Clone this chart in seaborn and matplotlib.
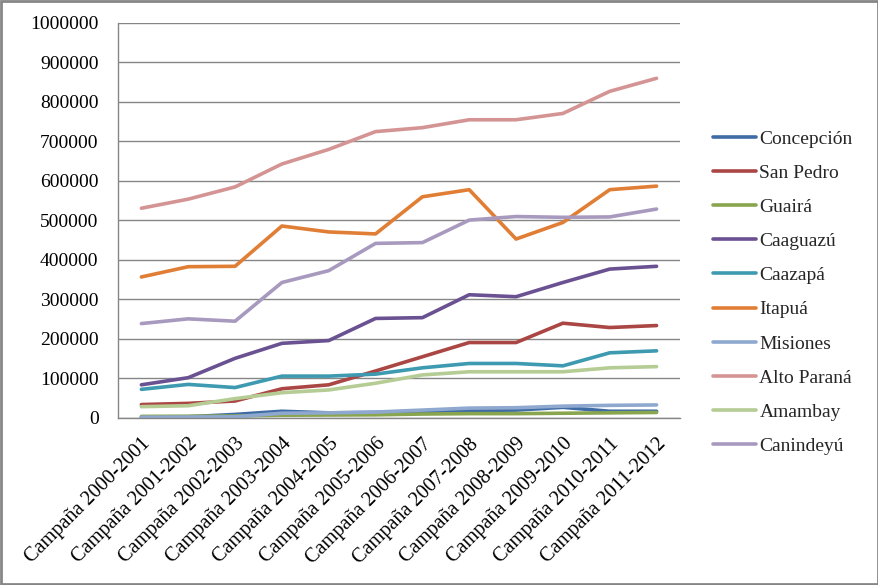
"""Producción por departamento, campañas 2000-2012."""
import numpy as np
import pandas as pd
import matplotlib
matplotlib.use("Agg")
import matplotlib.pyplot as plt
from matplotlib.patches import Rectangle
import seaborn as sns

campanas = [f"Campaña {y}-{y + 1}" for y in range(2000, 2012)]

concepcion = [2000, 3000, 9000, 17000, 13000, 14000, 16000, 19000, 20000, 27000, 17000, 17000]
san_pedro = [34000, 37000, 43000, 74000, 84000, 119000, 155000, 191000, 191000, 240000, 229000, 234000]
guaira = [4000, 4500, 5000, 7000, 7500, 8000, 10000, 11000, 11000, 12000, 13000, 14000]
caaguazu = [84000, 102000, 151000, 189000, 196000, 252000, 254000, 312000, 307000, 343000, 377000, 384000]
caazapa = [72500, 85000, 77000, 106000, 106000, 111000, 127000, 138000, 138000, 132000, 165000, 170000]
itapua = [357000, 383000, 384000, 486000, 471000, 466000, 560000, 578000, 453000, 495000, 578000, 587000]
misiones = [2000, 2500, 3000, 12000, 13000, 15000, 20000, 25000, 26000, 30000, 32000, 33000]
alto_parana = [531000, 554000, 585000, 643000, 680000, 725000, 735000, 755000, 755000, 771000, 827000, 860000]
amambay = [28700, 31000, 49000, 64000, 71000, 88000, 109000, 117000, 117000, 117000, 127000, 130000]
canindeyu = [239000, 251000, 245000, 343000, 373000, 442000, 444000, 501000, 510000, 508000, 509000, 529000]

series = {
    "Concepción": concepcion,
    "San Pedro": san_pedro,
    "Guairá": guaira,
    "Caaguazú": caaguazu,
    "Caazapá": caazapa,
    "Itapuá": itapua,
    "Misiones": misiones,
    "Alto Paraná": alto_parana,
    "Amambay": amambay,
    "Canindeyú": canindeyu,
}
colores = ["#3F6CA5", "#AA4643", "#89A54E", "#6A5192", "#3D9AB0",
           "#E07E36", "#8FA8CF", "#D49494", "#B5CC94", "#A89ABE"]

df = pd.DataFrame([
    {"campana": c, "depto": d, "valor": v}
    for d, vals in series.items() for c, v in zip(campanas, vals)
])

sns.set_style("white")
plt.rcParams["font.family"] = ["Liberation Serif", "DejaVu Serif"]
gris = "#868686"
fs = 14

fig = plt.figure(figsize=(8.79, 5.85), dpi=100)
ax = fig.add_axes([0.1342, 0.2855, 0.7736 - 0.1342, 0.9607 - 0.2855])

sns.lineplot(data=df, x="campana", y="valor", hue="depto", sort=False,
             palette=dict(zip(series.keys(), colores)), lw=2.6, ax=ax)

ax.set_xlim(-0.5, len(campanas) - 0.5)
ax.set_ylim(0, 1000000)
ax.set_yticks(np.arange(0, 1000001, 100000))
ax.set_yticklabels([f"{v}" for v in range(0, 1000001, 100000)])
ax.set_xticks(range(len(campanas)))
ax.set_xticklabels(campanas, rotation=45, ha="right", rotation_mode="anchor")
ax.set_xticks(np.arange(-0.5, len(campanas), 1), minor=True)
ax.tick_params(axis="x", which="major", length=0, pad=12, labelsize=14.6, colors="black")
ax.tick_params(axis="x", which="minor", length=5, width=1, color=gris, direction="out")
ax.tick_params(axis="y", length=5, width=1, color=gris, direction="out",
               labelsize=fs, labelcolor="black", pad=9)
ax.set_xlabel("")
ax.set_ylabel("")
ax.yaxis.grid(True, color=gris, lw=1)
ax.set_axisbelow(True)
for s in ["top", "right"]:
    ax.spines[s].set_visible(False)
for s in ["left", "bottom"]:
    ax.spines[s].set_color(gris)
    ax.spines[s].set_linewidth(1)

handles, labels = ax.get_legend_handles_labels()
ax.legend(handles, labels, loc="center left", bbox_to_anchor=(0.802, 0.5),
          bbox_transform=fig.transFigure, frameon=False, fontsize=fs,
          handlelength=2.2, handletextpad=0.2, labelspacing=0.85, borderaxespad=0)

fig.patches.append(Rectangle((0.0015, 0.002), 0.997, 0.996, transform=fig.transFigure,
                             fill=False, edgecolor=gris, lw=2))

fig.savefig("out.png", dpi=100)
